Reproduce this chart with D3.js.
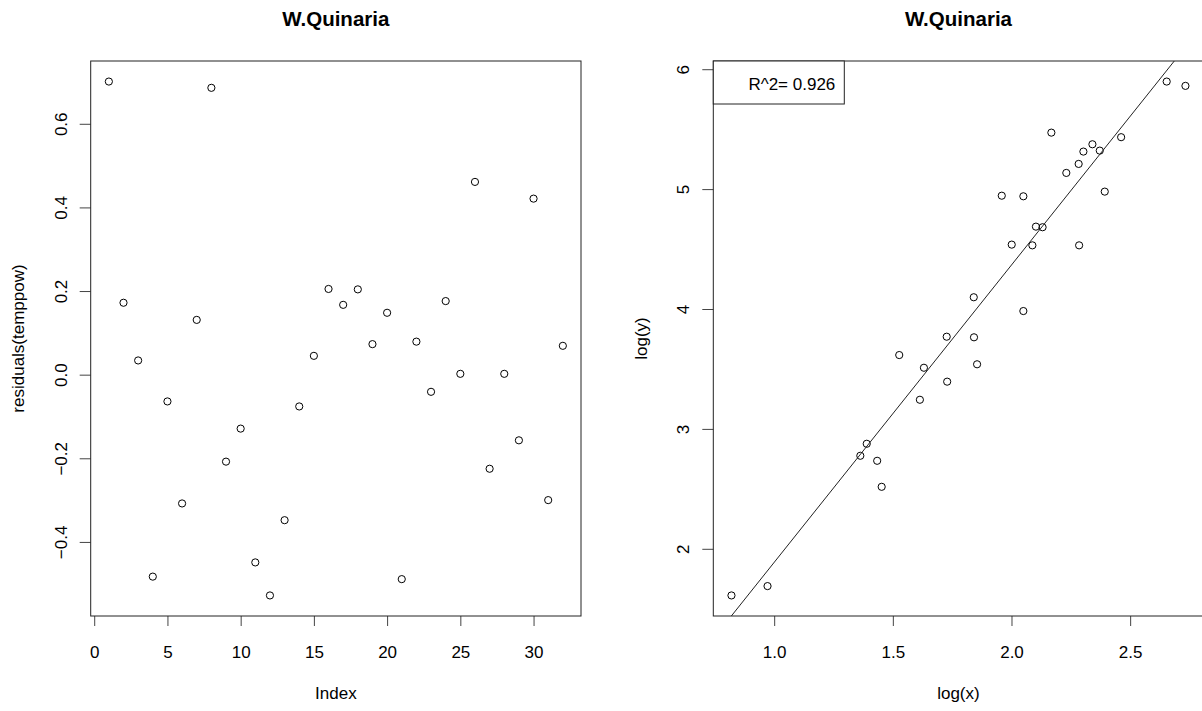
<!DOCTYPE html>
<html lang="en">
<head>
<meta charset="utf-8">
<script src="https://cdn.jsdelivr.net/npm/d3@7"></script>
<style>
  body { margin: 0; background: #fff; }
  svg text { font-family: "Liberation Sans", Arial, sans-serif; fill: #000; }
</style>
</head>
<body>
<script>
// left panel: residuals by index
const residuals = [0.701, 0.172, 0.034, -0.483, -0.064, -0.308, 0.131, 0.686,
  -0.208, -0.129, -0.449, -0.528, -0.348, -0.076, 0.045, 0.205,
  0.167, 0.204, 0.073, 0.148, -0.489, 0.079, -0.041, 0.176,
  0.002, 0.461, -0.225, 0.002, -0.157, 0.421, -0.300, 0.069];

// right panel: log(x) vs log(y)
const logX = [0.820, 0.972, 1.363, 1.390, 1.434, 1.453, 1.527, 1.614,
  1.631, 1.727, 1.729, 1.841, 1.842, 1.855, 1.959, 2.001,
  2.050, 2.050, 2.088, 2.103, 2.131, 2.168, 2.231, 2.285,
  2.283, 2.303, 2.341, 2.372, 2.393, 2.462, 2.654, 2.733];
const logY = [1.611, 1.689, 2.776, 2.876, 2.734, 2.517, 3.616, 3.243,
  3.510, 3.769, 3.394, 4.098, 3.764, 3.539, 4.945, 4.537,
  4.940, 3.983, 4.531, 4.687, 4.682, 5.471, 5.135, 4.531,
  5.210, 5.313, 5.374, 5.321, 4.979, 5.433, 5.897, 5.861];

// fitted line
const fitIntercept = -0.593;
const fitSlope = 2.48;
const r2Label = "R^2= 0.926";

const leftXTicks = [0, 5, 10, 15, 20, 25, 30];
const leftYTicks = [-0.4, -0.2, 0.0, 0.2, 0.4, 0.6];
const rightXTicks = [1.0, 1.5, 2.0, 2.5];
const rightYTicks = [2, 3, 4, 5, 6];

const W = 1202, H = 711;
const plotTop = 61, plotBottom = 616;

// R style 4% range extension
function ext(arr) {
  const [a, b] = d3.extent(arr);
  const d = (b - a) * 0.04;
  return [a - d, b + d];
}

const svg = d3.select("body").append("svg")
  .attr("width", W).attr("height", H);

function panel(opt) {
  const g = svg.append("g");
  const x = d3.scaleLinear().domain(ext(opt.xs)).range([opt.x0, opt.x1]);
  const y = d3.scaleLinear().domain(ext(opt.ys)).range([plotBottom, plotTop]);

  const xAxis = d3.axisBottom(x).tickValues(opt.xTicks).tickSize(10)
    .tickFormat(opt.xFmt);
  const gx = g.append("g").attr("transform", "translate(0," + plotBottom + ")").call(xAxis);
  gx.select(".domain").remove();
  gx.selectAll("line").attr("stroke", "#444");
  gx.selectAll("text").attr("y", 42).attr("dy", 0)
    .style("font-size", "17px").attr("fill", "#000");

  const yAxis = d3.axisLeft(y).tickValues(opt.yTicks).tickSize(11)
    .tickFormat(opt.yFmt);
  const gy = g.append("g").attr("transform", "translate(" + opt.x0 + ",0)").call(yAxis);
  gy.select(".domain").remove();
  gy.selectAll("line").attr("stroke", "#444");
  gy.selectAll("text").attr("x", null).attr("dy", 0)
    .attr("transform", "translate(-24,0) rotate(-90)")
    .attr("text-anchor", "middle")
    .style("font-size", "17px").attr("fill", "#000");

  // box
  g.append("rect")
    .attr("x", opt.x0).attr("y", plotTop)
    .attr("width", opt.x1 - opt.x0).attr("height", plotBottom - plotTop)
    .attr("fill", "none").attr("stroke", "#222").attr("stroke-width", 1);

  const cx = (opt.x0 + opt.x1) / 2;
  g.append("text").attr("x", cx).attr("y", 26)
    .attr("text-anchor", "middle").style("font-size", "20.5px")
    .style("font-weight", "bold").text(opt.title);
  g.append("text").attr("x", cx).attr("y", 699)
    .attr("text-anchor", "middle").style("font-size", "17px").text(opt.xLabel);
  g.append("text")
    .attr("transform", "translate(" + (opt.x0 - 66.7) + "," + ((plotTop + plotBottom) / 2) + ") rotate(-90)")
    .attr("text-anchor", "middle").style("font-size", "17px").text(opt.yLabel);

  g.selectAll("circle.pt")
    .data(opt.xs.map((v, i) => [v, opt.ys[i]]))
    .enter().append("circle")
    .attr("class", "pt")
    .attr("cx", d => x(d[0]))
    .attr("cy", d => y(d[1]))
    .attr("r", 3.6)
    .attr("fill", "none")
    .attr("stroke", "#000")
    .attr("stroke-width", 1);

  return { g, x, y };
}

const leftPanel = panel({
  x0: 90.7, x1: 581,
  xs: residuals.map((d, i) => i + 1), ys: residuals,
  xTicks: leftXTicks, yTicks: leftYTicks,
  xFmt: d3.format("d"), yFmt: d3.format(".1f"),
  title: "W.Quinaria", xLabel: "Index", yLabel: "residuals(temppow)"
});

const rightPanel = panel({
  x0: 713.3, x1: 1203.6,
  xs: logX, ys: logY,
  xTicks: rightXTicks, yTicks: rightYTicks,
  xFmt: d3.format(".1f"), yFmt: d3.format("d"),
  title: "W.Quinaria", xLabel: "log(x)", yLabel: "log(y)"
});

// regression line, clipped to the plot region
const rx = rightPanel.x, ry = rightPanel.y;
svg.append("clipPath").attr("id", "clipR")
  .append("rect")
  .attr("x", rx.range()[0]).attr("y", plotTop)
  .attr("width", rx.range()[1] - rx.range()[0])
  .attr("height", plotBottom - plotTop);

const xd = rx.domain();
rightPanel.g.append("line")
  .attr("clip-path", "url(#clipR)")
  .attr("x1", rx(xd[0])).attr("y1", ry(fitIntercept + fitSlope * xd[0]))
  .attr("x2", rx(xd[1])).attr("y2", ry(fitIntercept + fitSlope * xd[1]))
  .attr("stroke", "#222").attr("stroke-width", 1);

// legend box top-left
const lx = rx.range()[0];
rightPanel.g.append("rect")
  .attr("x", lx).attr("y", plotTop)
  .attr("width", 131).attr("height", 43)
  .attr("fill", "#fff").attr("stroke", "#222");
rightPanel.g.append("text")
  .attr("x", lx + 122).attr("y", plotTop + 29)
  .attr("text-anchor", "end").style("font-size", "17px")
  .text(r2Label);
</script>
</body>
</html>
